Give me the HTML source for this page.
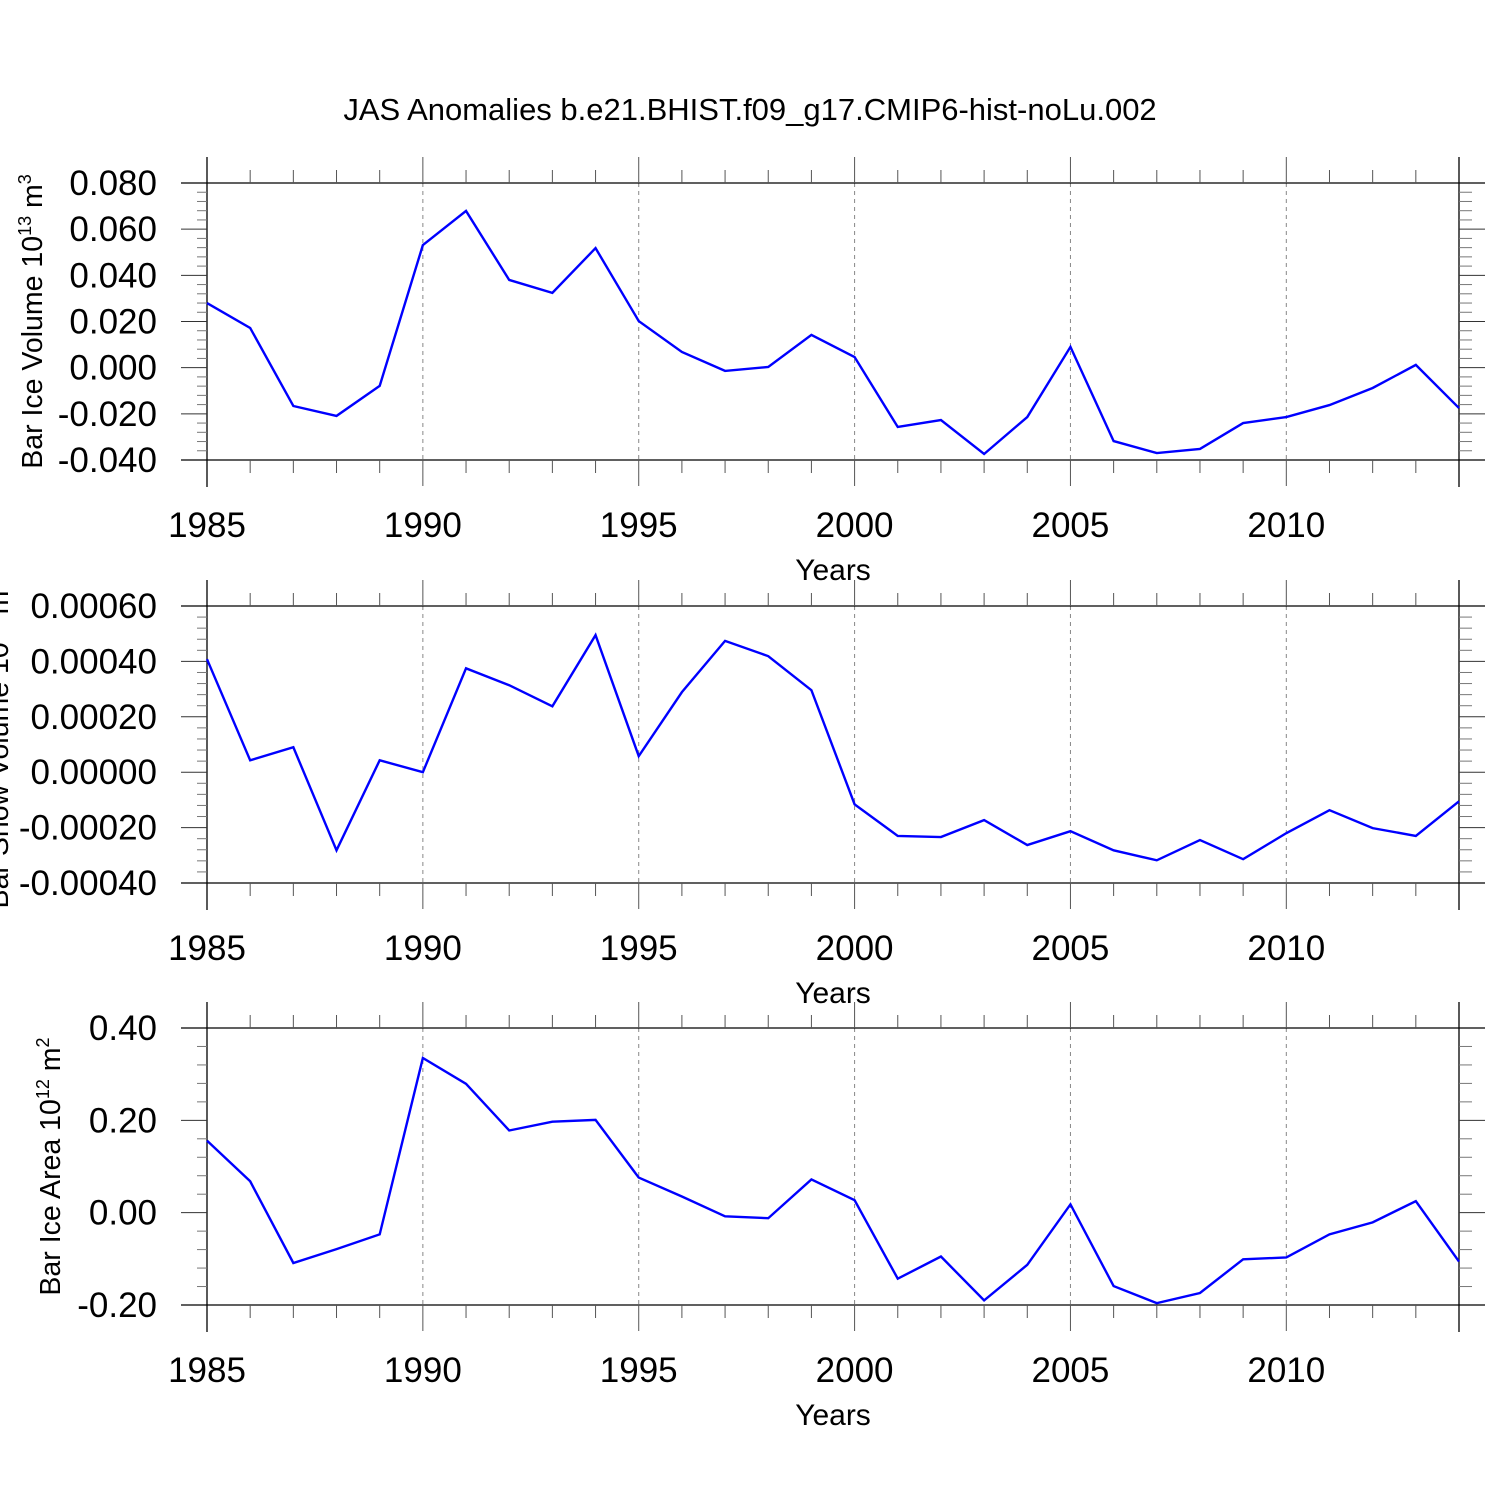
<!DOCTYPE html>
<html><head><meta charset="utf-8"><style>
html,body{margin:0;padding:0;background:#fff;}
svg{display:block;font-family:"Liberation Sans",Arial,sans-serif;}
</style></head><body>
<svg id="chart" width="1500" height="1500" viewBox="0 0 1500 1500">
<text x="750" y="120" font-size="31" text-anchor="middle">JAS Anomalies b.e21.BHIST.f09_g17.CMIP6-hist-noLu.002</text>
</svg>
<script>
const years = [1985,1986,1987,1988,1989,1990,1991,1992,1993,1994,1995,1996,1997,1998,1999,2000,2001,2002,2003,2004,2005,2006,2007,2008,2009,2010,2011,2012,2013,2014];
const iceVolume = [0.028,0.0172,-0.0166,-0.0209,-0.0079,0.0531,0.0679,0.038,0.0324,0.0518,0.0202,0.0068,-0.0014,0.0003,0.0142,0.0046,-0.0257,-0.0227,-0.0374,-0.0214,0.009,-0.0318,-0.037,-0.0352,-0.024,-0.0214,-0.0162,-0.0088,0.0012,-0.0175];
const snowVolume = [0.000408,0.000043,0.00009,-0.000282,0.000043,0.0,0.000375,0.000314,0.000238,0.000495,0.000058,0.000289,0.000474,0.000419,0.000296,-0.000116,-0.00023,-0.000234,-0.000173,-0.000263,-0.000213,-0.000282,-0.000318,-0.000245,-0.000314,-0.00022,-0.000137,-0.000202,-0.00023,-0.000105];
const iceArea = [0.156,0.068,-0.109,-0.079,-0.047,0.335,0.279,0.178,0.197,0.201,0.076,0.035,-0.008,-0.012,0.072,0.027,-0.143,-0.095,-0.19,-0.113,0.018,-0.159,-0.196,-0.174,-0.101,-0.097,-0.047,-0.021,0.025,-0.106];
const xTicks = [1985,1990,1995,2000,2005,2010];
const yTicks1 = [-0.04,-0.02,0,0.02,0.04,0.06,0.08];
const yTicks2 = [-0.0004,-0.0002,0,0.0002,0.0004,0.0006];
const yTicks3 = [-0.2,0,0.2,0.4];

const NS="http://www.w3.org/2000/svg";
const svg=document.getElementById('chart');
function mk(tag,attrs,parent){const e=document.createElementNS(NS,tag);for(const k in attrs)e.setAttribute(k,attrs[k]);(parent||svg).appendChild(e);return e;}

function panel(opts){
  const L=207,R=1459,T=opts.top,B=opts.top+277;
  const g=mk('g',{});
  
  
  const x=v=>L+(v-1985)/(2014-1985)*(R-L);
  const y=v=>B-(v-opts.min)/(opts.max-opts.min)*(B-T);
  xTicks.forEach(t=>{if(t>1985){const l=mk('line',{x1:x(t),x2:x(t),y1:T,y2:B,stroke:'#888','stroke-width':1,'stroke-dasharray':'4,4'},g);}});
  mk('line',{x1:181,x2:1485,y1:T,y2:T,stroke:'#000','stroke-width':1.3},g);
  mk('line',{x1:181,x2:1485,y1:B,y2:B,stroke:'#000','stroke-width':1.3},g);
  mk('line',{x1:L,x2:L,y1:T-26,y2:B+27,stroke:'#000','stroke-width':1.3},g);
  mk('line',{x1:R,x2:R,y1:T-26,y2:B+27,stroke:'#000','stroke-width':1.3},g);
  for(let yr=1986;yr<2014;yr++){
    const major=(yr%5===0);const len=major?26:13;
    mk('line',{x1:x(yr),x2:x(yr),y1:T-len,y2:T,stroke:'#555','stroke-width':1},g);
    mk('line',{x1:x(yr),x2:x(yr),y1:B,y2:B+len,stroke:'#555','stroke-width':1},g);
  }
  xTicks.forEach(t=>{const tx=mk('text',{x:x(t),y:B+77,'font-size':35,'text-anchor':'middle'},g);tx.textContent=t;});
  const xt=mk('text',{x:833,y:B+120,'font-size':30,'text-anchor':'middle'},g);xt.textContent='Years';
  
  const tk=opts.ticks;const step=tk[1]-tk[0];
  for(let i=0;i<tk.length;i++){
    const v=tk[i];
    if(i>0&&i<tk.length-1){
      mk('line',{x1:181,x2:L,y1:y(v),y2:y(v),stroke:'#333','stroke-width':1},g);
      mk('line',{x1:R,x2:1485,y1:y(v),y2:y(v),stroke:'#333','stroke-width':1},g);
    }
    if(i<tk.length-1){for(let k=1;k<5;k++){const yy=y(v+step*k/5);
      mk('line',{x1:L-10,x2:L,y1:yy,y2:yy,stroke:'#777','stroke-width':1},g);
      mk('line',{x1:R,x2:R+13,y1:yy,y2:yy,stroke:'#777','stroke-width':1},g);}}
    const t=mk('text',{x:157,y:y(v)+12,'font-size':35,'text-anchor':'end'},g);
    t.textContent=opts.fmt(v);
    
    
  }
  const yt=mk('text',{x:0,y:0,'font-size':28.5,'text-anchor':'middle',transform:`translate(${opts.titleX},${(T+B)/2}) rotate(-90)`},g);
  
  
  yt.innerHTML=opts.title;
  const pts=years.map((yr,i)=>x(yr)+','+y(opts.data[i])).join(' ');
  const pl=mk('polyline',{points:pts,fill:'none',stroke:'#0000ff','stroke-width':2.4},g);
  
  
}
const f=(d)=>v=>{let s=Math.abs(v).toFixed(d);return (v< -1e-12?'-':'')+s;};
panel({name:'ice-volume-panel',top:183,min:-0.04,max:0.08,ticks:yTicks1,data:iceVolume,fmt:f(3),titleX:42,
  title:'Bar Ice Volume 10<tspan dy="-11" font-size="18">13</tspan><tspan dy="11"> m</tspan><tspan dy="-11" font-size="18">3</tspan>'});
panel({name:'snow-volume-panel',top:606,min:-0.0004,max:0.0006,ticks:yTicks2,data:snowVolume,fmt:f(5),titleX:8,
  title:'Bar Snow Volume 10<tspan dy="-11" font-size="18">13</tspan><tspan dy="11"> m</tspan><tspan dy="-11" font-size="18">3</tspan>'});
panel({name:'ice-area-panel',top:1028,min:-0.2,max:0.4,ticks:yTicks3,data:iceArea,fmt:f(2),titleX:60,
  title:'Bar Ice Area 10<tspan dy="-11" font-size="18">12</tspan><tspan dy="11"> m</tspan><tspan dy="-11" font-size="18">2</tspan>'});
</script>
</body></html>
